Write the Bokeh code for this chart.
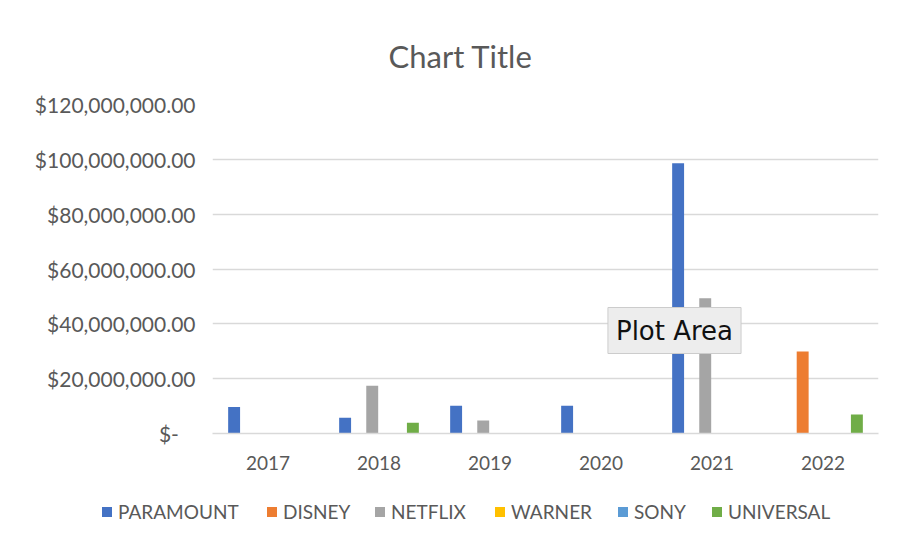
from bokeh.plotting import figure
from bokeh.layouts import column
from bokeh.models import (FactorRange, ColumnDataSource, CustomJSTickFormatter,
                          Label, Div)
from bokeh.transform import dodge
from bokeh.embed import file_html
from bokeh.resources import INLINE

years = ["2017", "2018", "2019", "2020", "2021", "2022"]
series = ["PARAMOUNT", "DISNEY", "NETFLIX", "WARNER", "SONY", "UNIVERSAL"]
paramount = [9_700_000, 5_700_000, 10_100_000, 10_100_000, 98_600_000, 0]
disney = [0, 0, 0, 0, 0, 29_900_000]
netflix = [0, 17_400_000, 4_700_000, 0, 49_300_000, 0]
warner = [0, 0, 0, 0, 0, 0]
sony = [0, 0, 0, 0, 0, 0]
universal = [0, 3_900_000, 0, 0, 0, 6_900_000]
colors = ["#4472C4", "#ED7D31", "#A5A5A5", "#FFC000", "#5B9BD5", "#70AD47"]
y_ticks = [0, 20_000_000, 40_000_000, 60_000_000, 80_000_000, 100_000_000, 120_000_000]

FONT = "Lato"
TXT = "#595959"

source = ColumnDataSource(dict(year=years, PARAMOUNT=paramount, DISNEY=disney,
                               NETFLIX=netflix, WARNER=warner, SONY=sony,
                               UNIVERSAL=universal))

p = figure(x_range=FactorRange(*years, range_padding=0), y_range=(0, 120_000_000),
           frame_width=666, frame_height=329, output_backend="svg", toolbar_location=None,
           min_border_left=212, min_border_right=19, min_border_top=104,
           min_border_bottom=55, title="Chart Title")

p.title.align = "left"
p.title.offset = 176
p.title.text_font = FONT
p.title.text_font_size = "31px"
p.title.text_font_style = "normal"
p.title.text_color = TXT
p.title.standoff = 60

step = 1.0 / (6 + 2.19)
bw = step * 0.88
for i, (name, col) in enumerate(zip(series, colors)):
    p.vbar(x=dodge("year", (i - 2.5) * step, range=p.x_range), top=name,
           width=bw, source=source, fill_color=col, line_color=None)

p.yaxis.ticker = y_ticks
p.yaxis.formatter = CustomJSTickFormatter(code="""
    if (tick == 0) { return "$-\u2007\u2008"; }
    return "$" + tick.toLocaleString('en-US', {minimumFractionDigits: 2, maximumFractionDigits: 2});
""")
p.yaxis.axis_line_color = None
p.yaxis.major_tick_line_color = None
p.yaxis.minor_tick_line_color = None
p.yaxis.major_label_text_font = FONT
p.yaxis.major_label_text_font_size = "21px"
p.yaxis.major_label_text_color = TXT
p.yaxis.major_label_standoff = 11

p.xaxis.axis_line_color = "#d9d9d9"
p.xaxis.axis_line_width = 1.5
p.xaxis.major_tick_line_color = None
p.xaxis.minor_tick_line_color = None
p.xaxis.major_label_text_font = FONT
p.xaxis.major_label_text_font_size = "19px"
p.xaxis.major_label_text_color = TXT
p.xaxis.major_label_standoff = 16

p.xgrid.grid_line_color = None
p.ygrid.grid_line_color = "#d9d9d9"
p.ygrid.grid_line_width = 1.5
p.outline_line_color = None

tip = Label(x=462, y=103, x_units="screen", y_units="screen", text="Plot Area",
            text_font="DejaVu Sans", text_font_size="26px", text_color="#111111",
            background_fill_color="#ededed", border_line_color="#cccccc",
            padding=8, text_baseline="middle", text_align="center")
p.add_layout(tip)

# legend row below the chart, built from the series names and colours
legend_left = [102, 267, 375, 495, 618, 712]
parts = []
for name, col, lx in zip(series, colors, legend_left):
    parts.append(
        f'<span style="position:absolute;left:{lx}px;top:12px;white-space:nowrap;'
        f'font-family:Lato;font-size:19px;line-height:24px;color:{TXT};">'
        f'<span style="display:inline-block;width:10px;height:10px;background:{col};'
        f'margin-right:6px;vertical-align:middle;position:relative;top:-2px;"></span>'
        f'{name}</span>')
legend_div = Div(text='<div style="position:relative;width:897px;height:60px;">'
                 + "".join(parts) + '</div>', width=897, height=60, margin=0)

layout = column(p, legend_div, spacing=0)

out = file_html(layout, INLINE)
open("out.html", "w").write(out)
